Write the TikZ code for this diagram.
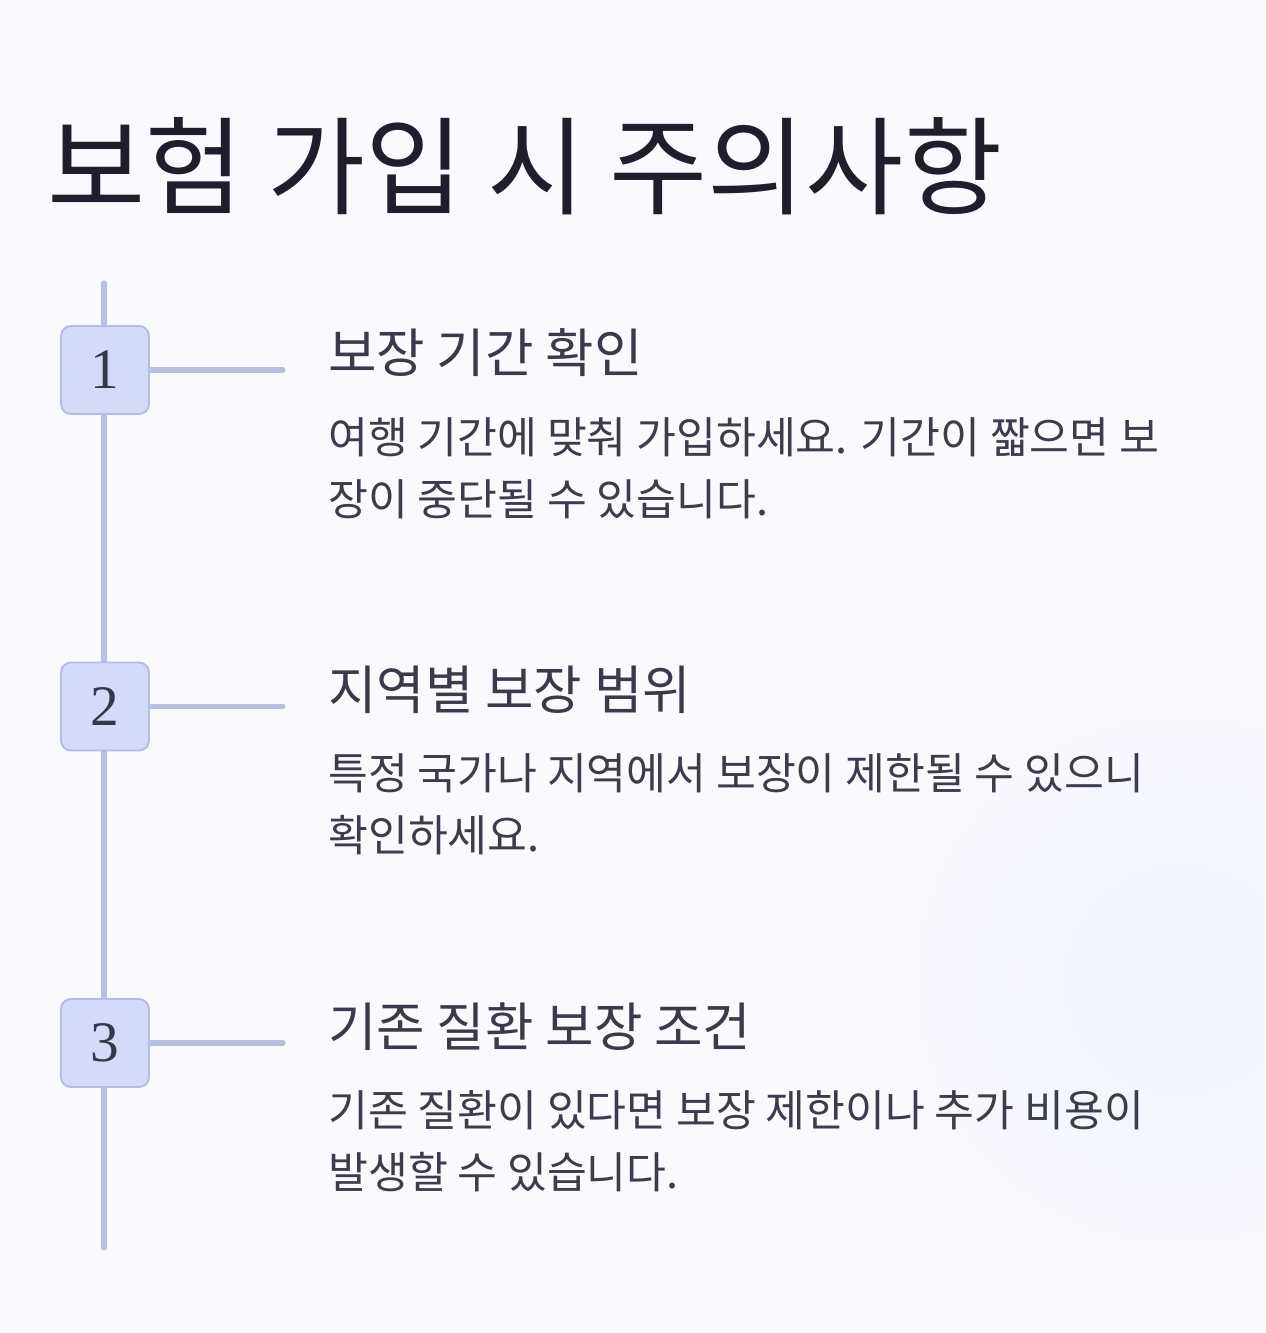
\documentclass[tikz,border=0pt]{standalone}
\usepackage{fontspec}
\setsansfont{Noto Sans CJK KR}
\newfontfamily\stepnumfont{Liberation Serif}
\definecolor{bgbase}{HTML}{F9F9FE}
\definecolor{bgtint}{HTML}{F2F3FB}
\definecolor{titletext}{HTML}{1E1E2C}
\definecolor{headtext}{HTML}{3A3A4C}
\definecolor{bodytext}{HTML}{3C3C4E}
\definecolor{numtext}{HTML}{363849}
\definecolor{stepfill}{HTML}{D5DAF8}
\definecolor{stepdraw}{HTML}{B3BCE5}
\definecolor{railcol}{HTML}{B7C0DE}

\begin{document}
\begin{tikzpicture}[
    x=0.75pt, y=-0.75pt,
    stepbox/.style={draw=stepdraw, fill=stepfill, line width=1.4pt, rounded corners=7.5pt,
        minimum width=66pt, minimum height=66pt, inner sep=0pt,
        font=\stepnumfont\fontsize{43}{43}\selectfont, text=numtext},
    rail/.style={draw=railcol, line width=3.8pt, line cap=round},
    headtxt/.style={anchor=base west, inner sep=0pt, font=\sffamily\fontsize{39.5}{39.5}\selectfont, text=headtext},
    bodytxt/.style={anchor=base west, inner sep=0pt, align=left,
        font=\sffamily\fontsize{32.5}{46.5}\selectfont, text=bodytext}
]

\pgfmathsetmacro{\stepGap}{336.5}
\pgfmathsetmacro{\firstY}{370}

% Background
\useasboundingbox (0,0) rectangle (1265,1333);
\fill[bgbase] (0,0) rectangle (1265,1333);
\begin{scope}
    \clip (0,0) rectangle (1265,1333);
    \shade[inner color=bgtint, outer color=bgbase] (1180,980) circle (330);
\end{scope}

% Title
\node[anchor=base west, inner sep=0pt, font=\sffamily\fontsize{80}{80}\selectfont, text=titletext]
    (title) at (47,207) {보험 가입 시 주의사항};

% Rail
\coordinate (railtop) at (104,283);
\coordinate (railbot) at (104,1248);
\draw[rail] (railtop) -- (railbot);

% ---------------------------------------------------------
% STEPS
% ---------------------------------------------------------
\foreach \head/\lineA/\lineB [count=\i] in {
    {보장 기간 확인}/{여행 기간에 맞춰 가입하세요. 기간이 짧으면 보}/{장이 중단될 수 있습니다.},
    {지역별 보장 범위}/{특정 국가나 지역에서 보장이 제한될 수 있으니}/{확인하세요.},
    {기존 질환 보장 조건}/{기존 질환이 있다면 보장 제한이나 추가 비용이}/{발생할 수 있습니다.}} {
    \pgfmathsetmacro{\cy}{\firstY + (\i-1)*\stepGap}
    \node[stepbox] (step\i) at (105,\cy) {\i};
    \coordinate (tip\i) at (283,\cy);
    \draw[rail] (step\i.east) -- (tip\i);
    \node[headtxt] (head\i) at (328,\cy+3) {\head};
    % base anchor sits on the last line
    \node[bodytxt] (body\i) at (328,\cy+145) {\lineA\\\lineB};
}

\end{tikzpicture}
\end{document}
